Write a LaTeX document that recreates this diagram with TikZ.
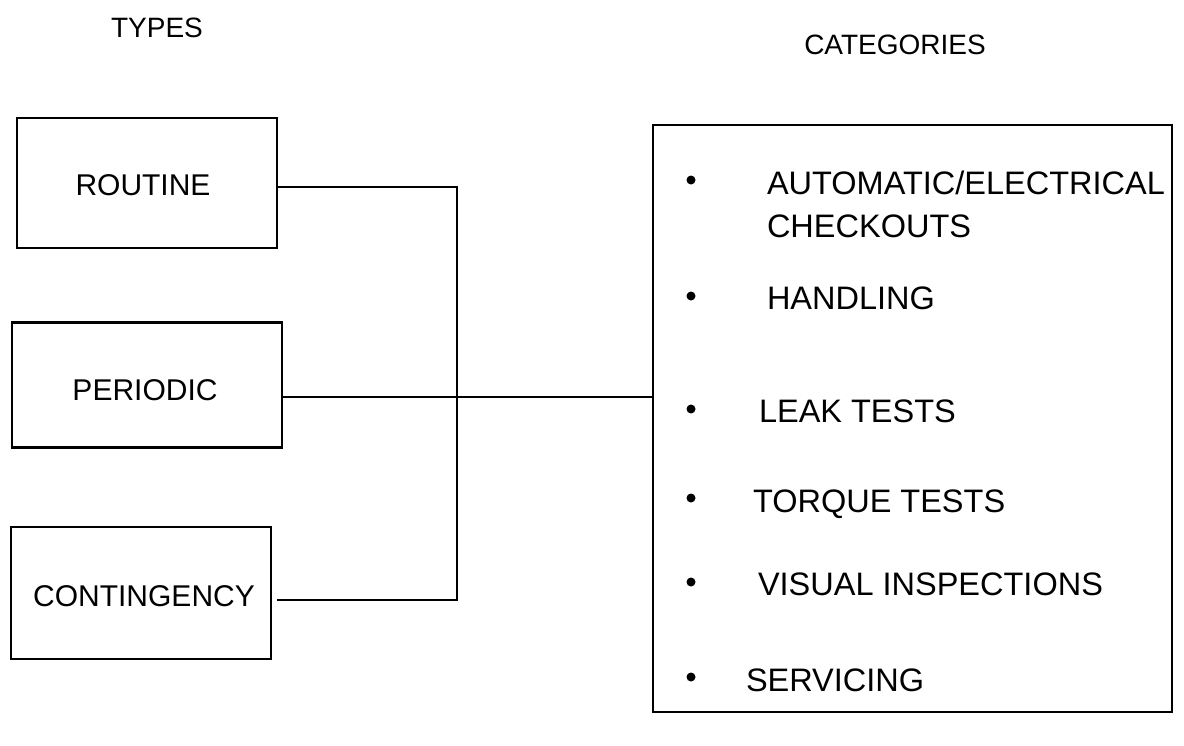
\documentclass[tikz,border=0pt]{standalone}
\usepackage{fontspec}
\setmainfont{Liberation Sans}
\begin{document}
\begin{tikzpicture}[x=1pt,y=-1pt,line width=2pt,
  lbl/.style={font=\fontsize{28}{32}\selectfont, inner sep=0},
  typebox/.style={draw, line width=2.2pt, inner sep=0},
  boxtext/.style={inner sep=0, font=\fontsize{30}{34}\selectfont},
  item/.style={anchor=base west, inner sep=0, font=\fontsize{32.5}{36}\selectfont},
  dot/.style={circle, fill, inner sep=0, minimum size=9pt}]
\useasboundingbox (0,0) rectangle (1184,745);
\node[lbl] (types) at (157,28) {TYPES};
\node[lbl] (cattitle) at (895,45) {CATEGORIES};
\node[typebox, minimum width=260pt, minimum height=130pt] (routine) at (147,183) {};
\node[typebox, minimum width=270pt, minimum height=125pt] (periodic) at (147,385) {};
\node[typebox, minimum width=260pt, minimum height=132pt] (contingency) at (141,593) {};
\node[boxtext] (routinet) at (143,185) {ROUTINE};
\node[boxtext] (periodict) at (145,390) {PERIODIC};
\node[boxtext] (contingencyt) at (144,596) {CONTINGENCY};
\node[draw, line width=2.2pt, minimum width=519pt, minimum height=587pt, inner sep=0] (cats) at (912.5,418.5) {};
\coordinate (j1) at (457,187);
\coordinate (j2) at (457,397);
\coordinate (j3) at (457,600);
\draw (routine.east |- j1) -- (j1) -- (j3) -- ([xshift=5pt]contingency.east |- j3);
\draw (periodic.east |- j2) -- (j2) -- (cats.west |- j2);
\node[dot] (b1) at (691,180) {};
\node[dot] (b2) at (691,296) {};
\node[dot] (b3) at (691,409) {};
\node[dot] (b4) at (691,498) {};
\node[dot] (b5) at (691,582) {};
\node[dot] (b6) at (691,677) {};
\node[item] (t1) at (766,194) {AUTOMATIC/ELECTRICAL};
\node[item] (t1b) at (766,237) {CHECKOUTS};
\node[item] (t2) at (766,309) {HANDLING};
\node[item] (t3) at (758,422) {LEAK TESTS};
\node[item] (t4) at (752,512) {TORQUE TESTS};
\node[item] (t5) at (757,595) {VISUAL INSPECTIONS};
\node[item] (t6) at (745,691) {SERVICING};
\end{tikzpicture}
\end{document}
